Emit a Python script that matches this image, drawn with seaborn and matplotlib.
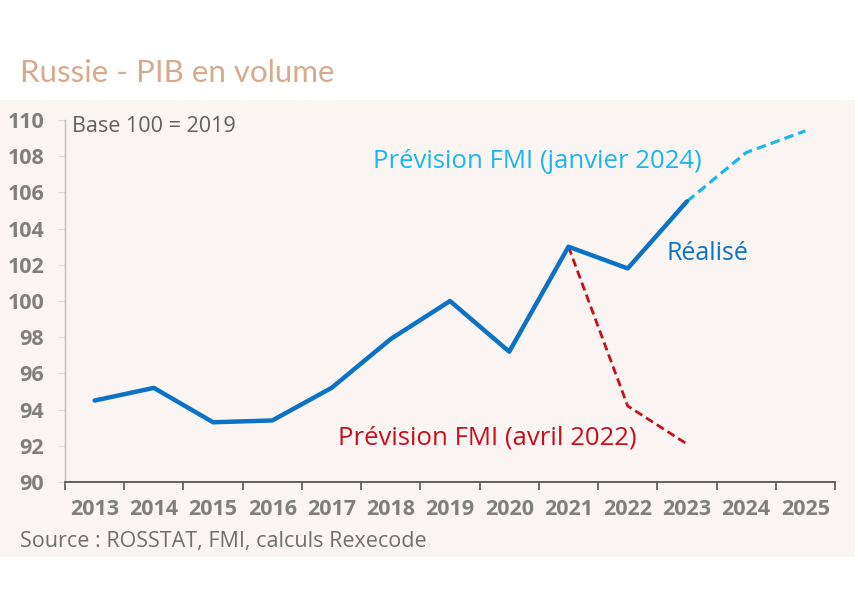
import numpy as np
import pandas as pd
import matplotlib
matplotlib.use("Agg")
import matplotlib.pyplot as plt
import seaborn as sns
from matplotlib.patches import Rectangle
from matplotlib.ticker import FixedLocator

# Russia GDP volume index, base 100 = 2019
years = list(range(2013, 2026))
realise_years = [2013, 2014, 2015, 2016, 2017, 2018, 2019, 2020, 2021, 2022, 2023]
realise_vals = [94.5, 95.2, 93.3, 93.4, 95.2, 97.9, 100.0, 97.2, 103.0, 101.8, 105.5]
prev_jan24_years = [2023, 2024, 2025]
prev_jan24_vals = [105.5, 108.2, 109.4]
prev_avr22_years = [2021, 2022, 2023]
prev_avr22_vals = [103.0, 94.2, 92.1]
y_ticks = list(range(90, 111, 2))

sns.set_theme(style="white")
plt.rcParams['font.family'] = ['Open Sans', 'DejaVu Sans']

fig = plt.figure(figsize=(8.58, 6.0), dpi=100)
fig.patch.set_facecolor("white")
bg = "#FAF5F3"
fig.add_artist(Rectangle((0, 43 / 600), 855 / 858, 457 / 600,
                         transform=fig.transFigure, facecolor=bg,
                         edgecolor="none", zorder=-10))

ax = fig.add_axes([65 / 858, 118 / 600, 770 / 858, 362 / 600])
ax.set_facecolor("none")
ax.set_zorder(1)

df_real = pd.DataFrame({"annee": realise_years, "pib": realise_vals})
df_jan = pd.DataFrame({"annee": prev_jan24_years, "pib": prev_jan24_vals})
df_avr = pd.DataFrame({"annee": prev_avr22_years, "pib": prev_avr22_vals})

sns.lineplot(data=df_jan, x="annee", y="pib", ax=ax, color="#1CB5EE",
             lw=2.3, linestyle=(0, (3, 1.6)))
sns.lineplot(data=df_avr, x="annee", y="pib", ax=ax, color="#C8101A",
             lw=2.0, linestyle=(0, (3, 1.6)))
sns.lineplot(data=df_real, x="annee", y="pib", ax=ax, color="#0B72C6", lw=3.2)

ax.set_xlim(2012.5, 2025.5)
ax.set_ylim(90, 110)
ax.set_xlabel("")
ax.set_ylabel("")

ax.set_xticks(years)
ax.set_xticklabels([str(y) for y in years], fontsize=15.5, fontweight="bold",
                   color="#7F7F7F")
ax.xaxis.set_minor_locator(FixedLocator([y - 0.5 for y in years] + [2025.5]))
ax.tick_params(axis="x", which="major", length=0, pad=12)
ax.tick_params(axis="x", which="minor", length=6, width=1.2, color="#555555",
               direction="out", bottom=True)
ax.set_yticks(y_ticks)
ax.set_yticklabels([str(v) for v in y_ticks], fontsize=15.5, fontweight="bold",
                   color="#7F7F7F")
ax.tick_params(axis="y", which="major", length=5, width=0.8, color="#D9D9D9",
               direction="out", left=True, pad=10)

for s in ["top", "right"]:
    ax.spines[s].set_visible(False)
ax.spines["left"].set_color("#BFBFBF")
ax.spines["left"].set_linewidth(1.0)
ax.spines["bottom"].set_color("#555555")
ax.spines["bottom"].set_linewidth(1.3)
ax.grid(False)

fig.text(20 / 858, 1 - 73 / 600, "Russie - PIB en volume", fontsize=22.5,
         color="#D8A98A", family=["Lato", "DejaVu Sans"], va="center", ha="left")
fig.text(72 / 858, 1 - 126 / 600, "Base 100 = 2019", fontsize=15.5,
         color="#606060", va="center", ha="left")
fig.text(537 / 858, 1 - 162 / 600, "Prévision FMI (janvier 2024)", fontsize=18.5,
         color="#1CB5EE", va="center", ha="center")
fig.text(707 / 858, 1 - 254 / 600, "Réalisé", fontsize=18,
         color="#0B72C6", va="center", ha="center")
fig.text(487 / 858, 1 - 438 / 600, "Prévision FMI (avril 2022)", fontsize=18.5,
         color="#C8101A", va="center", ha="center")
fig.text(20 / 858, 1 - 542 / 600, "Source : ROSSTAT, FMI, calculs Rexecode",
         fontsize=15.5, color="#6F6F6F", va="center", ha="left")

fig.savefig("out.png", dpi=100, facecolor="white")
